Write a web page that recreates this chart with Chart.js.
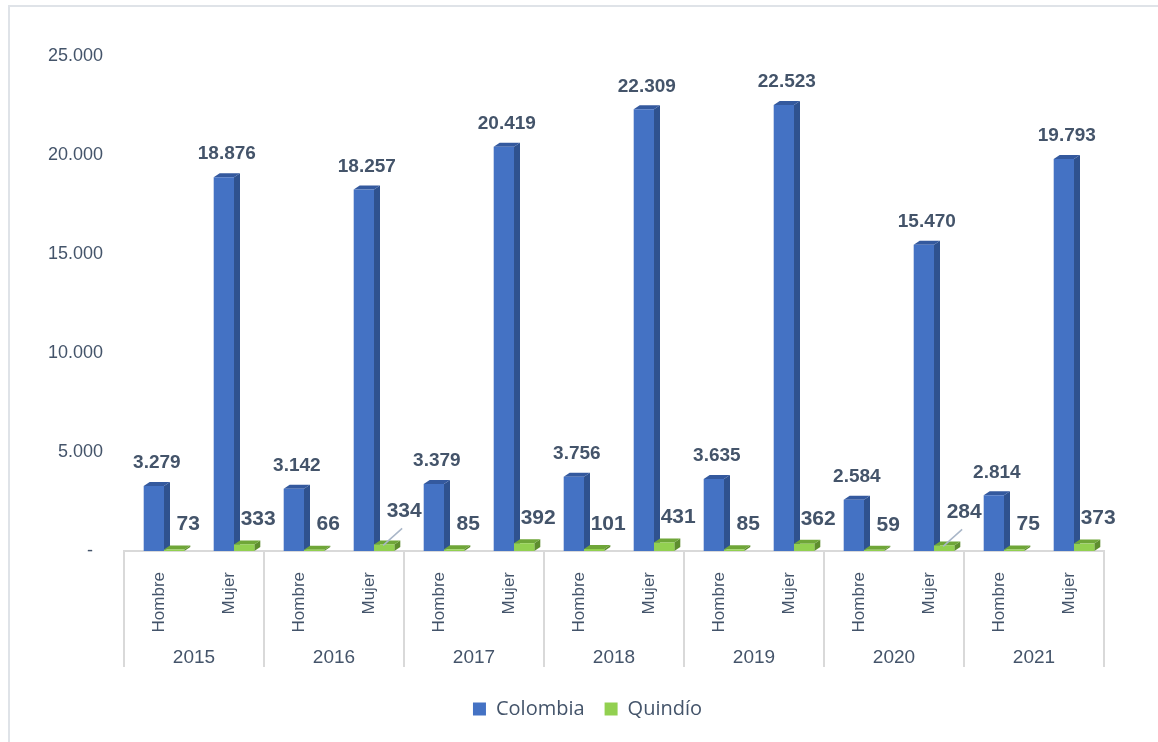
<!DOCTYPE html>
<html>
<head>
<meta charset="utf-8">
<script src="https://cdn.jsdelivr.net/npm/chart.js@4.4.1/dist/chart.umd.min.js"></script>
<style>
  html, body { margin: 0; padding: 0; background: #fff; }
  #wrap { position: relative; width: 1158px; height: 742px; }
  #frame { position: absolute; left: 8px; top: 5px; right: 0; bottom: 0;
           border-top: 2px solid #dfe3e8; border-left: 2px solid #dfe3e8; pointer-events: none; }
</style>
</head>
<body>
<div id="wrap">
  <canvas id="chart" width="1158" height="742"></canvas>
  <div id="frame"></div>
</div>
<script>
// Data
const years = ['2015', '2016', '2017', '2018', '2019', '2020', '2021'];
const sexes = ['Hombre', 'Mujer'];
const colombia = [3279, 18876, 3142, 18257, 3379, 20419, 3756, 22309, 3635, 22523, 2584, 15470, 2814, 19793];
const quindio = [73, 333, 66, 334, 85, 392, 101, 431, 85, 362, 59, 284, 75, 373];
const yTicks = [0, 5000, 10000, 15000, 20000, 25000];

const labels = years.flatMap(() => sexes);
const TXT = '#44546A';
const FONT = '"Liberation Sans", Arial, sans-serif';

function fmt(v) {
    return String(v).replace(/\B(?=(\d{3})+(?!\d))/g, '.');
}

// 3D faces: depth offset and shift of the bar group
const DX = 6, DY = 4, SHIFT = 5;
const faces = [
    { side: '#2F528F', top: '#34599E' },
    { side: '#5E8E2E', top: '#6FA638' }
];
// Quindío labels that sit higher with a leader line
const leaderIdx = [3, 11];

const bars3d = {
    id: 'bars3d',
    beforeDatasetsDraw(chart) {
        const ctx = chart.ctx;
        ctx.save();
        ctx.translate(SHIFT, 0);
        chart.data.datasets.forEach((ds, i) => {
            chart.getDatasetMeta(i).data.forEach(bar => {
                const p = bar.getProps(['x', 'y', 'base', 'width'], true);
                const l = p.x - p.width / 2, r = p.x + p.width / 2;
                ctx.fillStyle = faces[i].side;
                ctx.beginPath();
                ctx.moveTo(r, p.y); ctx.lineTo(r + DX, p.y - DY);
                ctx.lineTo(r + DX, p.base - DY); ctx.lineTo(r, p.base);
                ctx.closePath(); ctx.fill();
                ctx.fillStyle = faces[i].top;
                ctx.beginPath();
                ctx.moveTo(l, p.y); ctx.lineTo(l + DX, p.y - DY);
                ctx.lineTo(r + DX, p.y - DY); ctx.lineTo(r, p.y);
                ctx.closePath(); ctx.fill();
            });
        });
    },
    afterDatasetsDraw(chart) {
        const ctx = chart.ctx;
        ctx.restore();
        ctx.save();
        ctx.fillStyle = TXT;
        ctx.textAlign = 'center';
        ctx.textBaseline = 'middle';

        // Colombia labels
        ctx.font = 'bold 19px ' + FONT;
        chart.getDatasetMeta(0).data.forEach((bar, j) => {
            ctx.fillText(fmt(colombia[j]), bar.x + SHIFT + 3, bar.y - 23);
        });

        // Quindío labels
        ctx.font = 'bold 21px ' + FONT;
        chart.getDatasetMeta(1).data.forEach((bar, j) => {
            const cx = bar.x + SHIFT;
            if (leaderIdx.includes(j)) {
                ctx.fillText(fmt(quindio[j]), cx + 20, bar.y - 33);
                ctx.strokeStyle = '#A9B6C8';
                ctx.lineWidth = 1.5;
                ctx.beginPath();
                ctx.moveTo(cx + 18, bar.y - 16);
                ctx.lineTo(cx - 1, bar.y + 1);
                ctx.stroke();
            } else {
                ctx.fillText(fmt(quindio[j]), cx + 14, bar.y - 25);
            }
        });
        ctx.restore();
    },
    afterDraw(chart) {
        // year row of the category axis
        const ctx = chart.ctx;
        const x = chart.scales.x;
        const top = chart.chartArea.bottom;
        const half = (x.getPixelForValue(1) - x.getPixelForValue(0)) / 2;
        ctx.save();
        ctx.strokeStyle = '#D9D9D9';
        ctx.lineWidth = 2;
        for (let i = 0; i <= years.length; i++) {
            const px = i < years.length ? x.getPixelForValue(i * 2) - half
                                        : x.getPixelForValue(i * 2 - 1) + half;
            ctx.beginPath();
            ctx.moveTo(px, top);
            ctx.lineTo(px, top + 116);
            ctx.stroke();
        }
        ctx.fillStyle = TXT;
        ctx.font = '19px ' + FONT;
        ctx.textAlign = 'center';
        ctx.textBaseline = 'middle';
        years.forEach((y, i) => {
            const cx = (x.getPixelForValue(i * 2) + x.getPixelForValue(i * 2 + 1)) / 2;
            ctx.fillText(y, cx, top + 107);
        });
        ctx.restore();
    }
};

new Chart(document.getElementById('chart'), {
    type: 'bar',
    data: {
        labels: labels,
        datasets: [
            { label: 'Colombia', data: colombia, backgroundColor: '#4472C4' },
            { label: 'Quindío', data: quindio, backgroundColor: '#92D050' }
        ]
    },
    options: {
        responsive: false,
        animation: false,
        devicePixelRatio: 1,
        categoryPercentage: 0.58,
        barPercentage: 1,
        layout: { padding: { left: 17, right: 0, top: 56, bottom: 13 } },
        scales: {
            x: {
                grid: { display: false, drawTicks: false },
                border: { display: true, color: '#D9D9D9', width: 2 },
                ticks: {
                    minRotation: 90, maxRotation: 90, autoSkip: false, padding: 21,
                    color: TXT, font: { family: FONT, size: 17 }
                },
                afterFit(s) { s.height = 128; }
            },
            y: {
                min: 0, max: 25000,
                grid: { display: false, drawTicks: false },
                border: { display: false },
                afterBuildTicks(s) { s.ticks = yTicks.map(v => ({ value: v })); },
                ticks: {
                    padding: 21, color: TXT,
                    font: { family: FONT, size: 18 },
                    callback: v => v === 0 ? '-  ' : fmt(v)
                },
                afterFit(s) { s.width = 107; }
            },
            // empty right margin so the plot ends where the reference does
            pad: {
                position: 'right',
                grid: { display: false, drawTicks: false },
                border: { display: false },
                ticks: { display: false },
                afterFit(s) { s.width = 54; }
            }
        },
        plugins: {
            legend: {
                position: 'bottom',
                labels: {
                    color: TXT, boxWidth: 13, boxHeight: 13, padding: 20,
                    font: { family: '"Open Sans", "Noto Sans", sans-serif', size: 20 }
                }
            },
            tooltip: { enabled: false }
        }
    },
    plugins: [bars3d]
});
</script>
</body>
</html>
